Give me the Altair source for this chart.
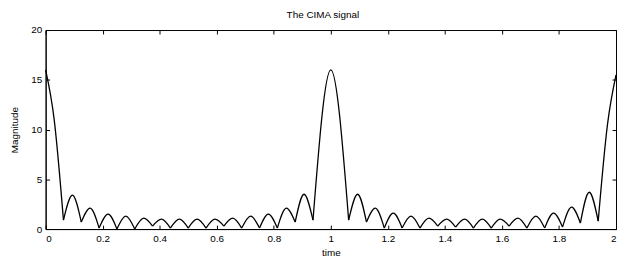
import altair as alt
import pandas as pd

title_text = "The CIMA signal"
x_title = "time"
y_title = "Magnitude"
x_ticks = [0, 0.2, 0.4, 0.6, 0.8, 1, 1.2, 1.4, 1.6, 1.8, 2]
y_ticks = [0, 5, 10, 15, 20]

# knots where the lobes meet (curve minima, plus both ends)
knot_t = [0.0, 0.0625, 0.125, 0.1875, 0.25, 0.3125, 0.375, 0.4375, 0.5,
          0.5625, 0.625, 0.6875, 0.75, 0.8125, 0.875, 0.9375,
          1.0625, 1.125, 1.1875, 1.25, 1.3125, 1.375, 1.4375, 1.5,
          1.5625, 1.625, 1.6875, 1.75, 1.8125, 1.875, 1.9375, 2.0]
knot_v = [16.0, 0.9, 0.7, 0.1, 0.0, 0.0, 0.3, 0.1, 0.1,
          0.1, 0.3, 0.1, 0.1, 0.1, 0.7, 0.9,
          0.9, 0.7, 0.1, 0.1, 0.1, 0.3, 0.2, 0.1,
          0.1, 0.3, 0.1, 0.1, 0.2, 0.6, 0.8, 15.5]
# lobe tops (one between each pair of knots)
peak_t = [0.03, 0.094, 0.156, 0.219, 0.281, 0.344, 0.406, 0.469,
          0.531, 0.594, 0.656, 0.719, 0.781, 0.844, 0.906, 1.0,
          1.094, 1.156, 1.219, 1.281, 1.344, 1.406, 1.469,
          1.531, 1.594, 1.656, 1.719, 1.781, 1.844, 1.906, 1.97]
peak_v = [11.0, 3.4, 2.1, 1.5, 1.3, 1.1, 1.0, 1.0,
          1.0, 1.0, 1.1, 1.3, 1.5, 2.1, 3.5, 16.0,
          3.5, 2.1, 1.6, 1.3, 1.1, 1.0, 1.0,
          1.0, 1.0, 1.1, 1.3, 1.6, 2.2, 3.7, 10.5]

rows = []
for i in range(len(peak_t)):
    rows.append(dict(time=knot_t[i], mag=knot_v[i], lobe=i, o=0))
    rows.append(dict(time=peak_t[i], mag=peak_v[i], lobe=i, o=1))
    rows.append(dict(time=knot_t[i + 1], mag=knot_v[i + 1], lobe=i, o=2))
df = pd.DataFrame(rows)

W, H = 576, 201
FONT = "Liberation Sans"
xs = alt.Scale(domain=[0, 2], nice=False, zero=False)
ys = alt.Scale(domain=[0, 20], nice=False)

base = alt.Chart(df)

line = base.mark_line(color="black", strokeWidth=1.3, interpolate="monotone").encode(
    x=alt.X("time:Q", scale=xs,
            axis=alt.Axis(values=x_ticks, ticks=False, format="~g", title=x_title,
                          labelPadding=5, titlePadding=4, domainColor="black",
                          labelColor="black", titleColor="black",
                          labelFontSize=10, titleFontSize=10, titleFontWeight="normal",
                          labelFont=FONT, titleFont=FONT)),
    y=alt.Y("mag:Q", scale=ys,
            axis=alt.Axis(values=y_ticks, ticks=False, title=y_title,
                          labelPadding=4, titlePadding=11, domainColor="black",
                          labelColor="black", titleColor="black",
                          labelFontSize=10, titleFontSize=10, titleFontWeight="normal",
                          labelFont=FONT, titleFont=FONT)),
    detail="lobe:N",
    order="o:Q",
)

tick_a = base.mark_point(opacity=0).encode(
    x=alt.X("time:Q", scale=xs,
            axis=alt.Axis(orient="top", offset=-H, values=x_ticks, labels=False,
                          domain=False, title=None, tickSize=4, tickColor="black")),
    y=alt.Y("mag:Q", scale=ys,
            axis=alt.Axis(orient="right", offset=-W, values=y_ticks, labels=False,
                          domain=False, title=None, tickSize=4, tickColor="black")),
)

tick_b = base.mark_point(opacity=0).encode(
    x=alt.X("time:Q", scale=xs,
            axis=alt.Axis(orient="bottom", offset=-H, values=x_ticks, labels=False,
                          domain=False, title=None, tickSize=4, tickColor="black")),
    y=alt.Y("mag:Q", scale=ys,
            axis=alt.Axis(orient="left", offset=-W, values=y_ticks, labels=False,
                          domain=False, title=None, tickSize=4, tickColor="black")),
)

chart = (
    alt.layer(line, tick_a, tick_b)
    .resolve_axis(x="independent", y="independent")
    .properties(
        width=W, height=H,
        title=alt.TitleParams(title_text, fontSize=10, font=FONT, fontWeight="normal",
                              anchor="middle", offset=5, dx=-8, color="black"),
        autosize=alt.AutoSizeParams(type="none"),
        padding={"left": 38, "top": 21, "right": 2, "bottom": 30},
    )
    .configure_axis(grid=False)
    .configure_view(stroke="black", strokeWidth=1)
)

chart.save("out.html", embed_options={"renderer": "svg", "actions": False})
